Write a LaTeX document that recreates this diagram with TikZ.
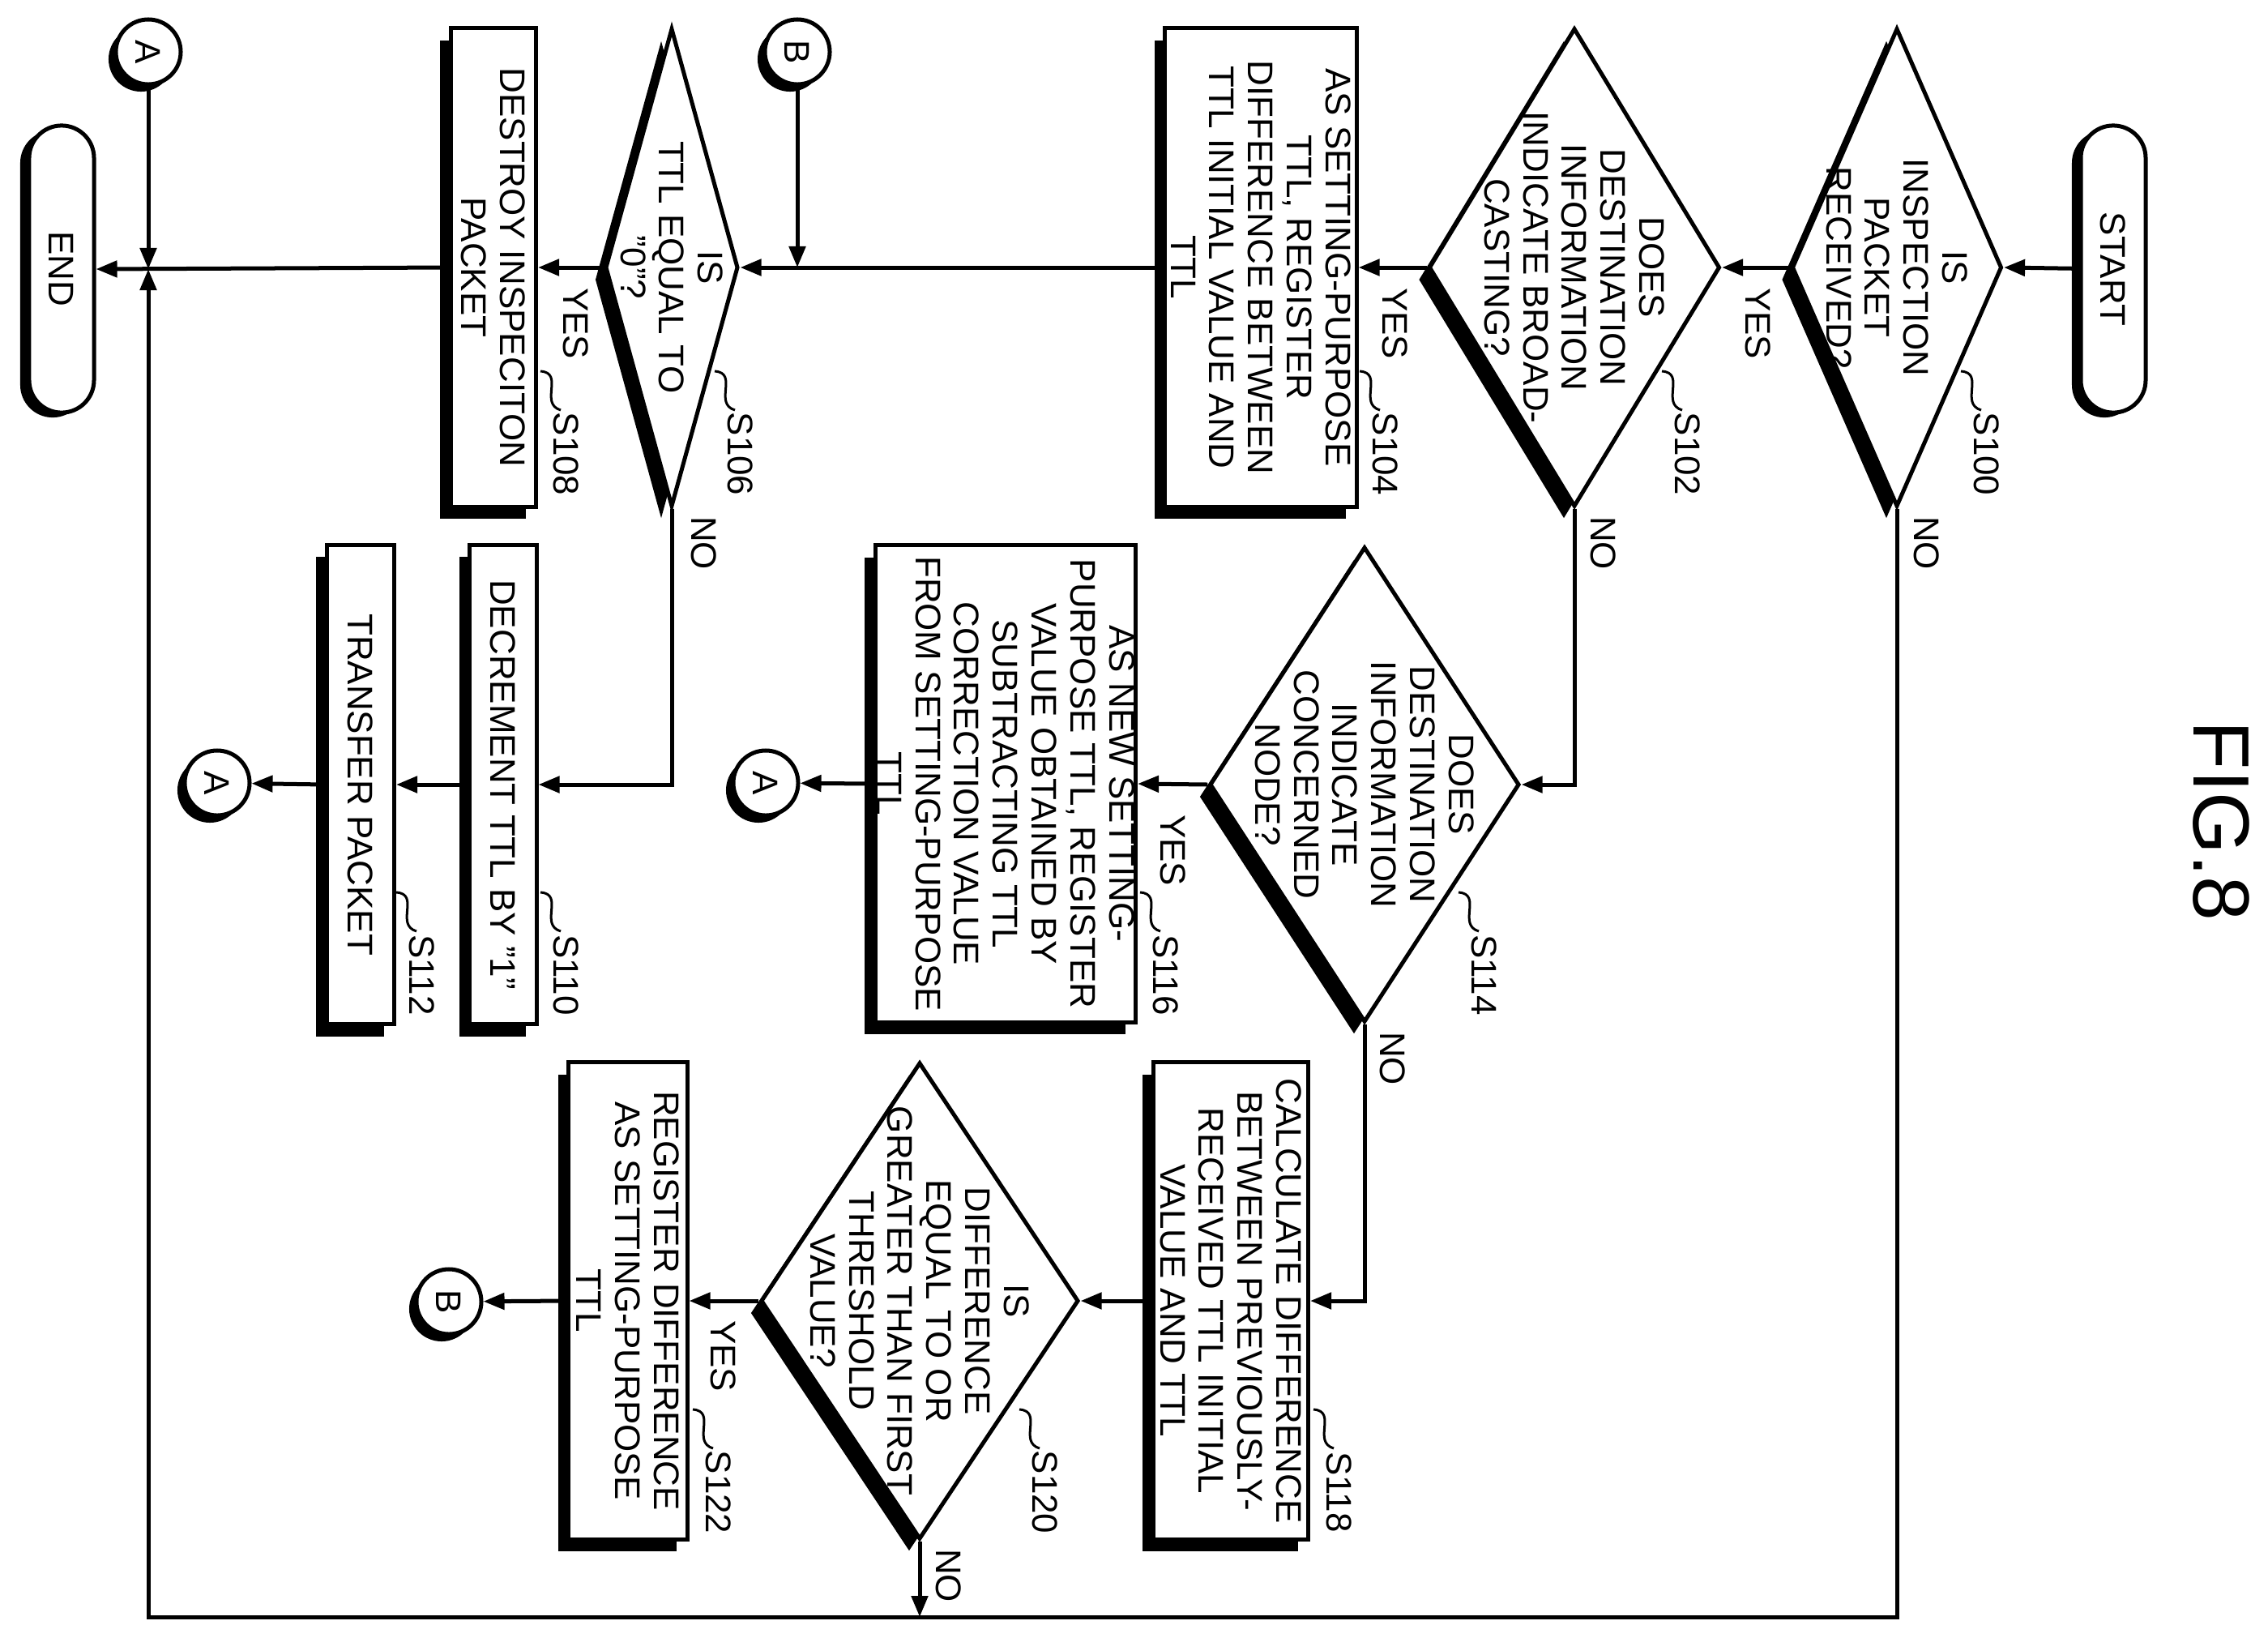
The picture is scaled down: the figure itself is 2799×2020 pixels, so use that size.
\documentclass[tikz,border=0pt]{standalone}
\usepackage{fontspec}
\setmainfont{Liberation Sans}
\usetikzlibrary{shapes.geometric,shadows,arrows.meta,calc}

\tikzset{
  every picture/.style={x=0.01cm,y=-0.01cm,line width=0.5mm},
  shd/.style={general shadow={fill=black,shadow xshift=-1.3mm,shadow yshift=-1.5mm}},
  box/.style={draw,fill=white,inner sep=0pt,shd},
  dia/.style={draw,fill=white,diamond,inner sep=0pt,shd},
  term/.style={draw,fill=white,rounded corners=0.4cm,inner sep=0pt,minimum width=0.8cm,minimum height=3.54cm,
    general shadow={fill=black,shadow xshift=-1.1mm,shadow yshift=-0.6mm}},
  conn/.style={draw,fill=white,circle,inner sep=0pt,minimum size=0.8cm,
    general shadow={fill=black,shadow xshift=-0.9mm,shadow yshift=-0.9mm}},
  txt/.style={rotate=-90,align=center,inner sep=0pt,font=\fontsize{12.5}{13.6}\selectfont},
  lab/.style={txt},
  arr/.style={-{Triangle[length=0.26cm,width=0.2cm]}},
}
\newcommand{\steplbl}[3]{%
  \node[lab] (#3) at (#1,#2) {#3};
  \draw[line width=0.3mm] (#1-32,#2-102) .. controls (#1-2,#2-100) and (#1-34,#2-62) .. (#1-7,#2-54);
}

\begin{document}
\begin{tikzpicture}
  \useasboundingbox (0,0) rectangle (2799,2020);
  % top row
  \node[term] (start) at (2608,332) {};
  \node[txt] at (start) {START};
  \node[dia,minimum width=2.59cm,minimum height=5.9cm] (s100) at (2341,330) {};
  \node[txt] at (s100) {IS\\INSPECTION\\PACKET\\RECEIVED?};
  \node[dia,minimum width=3.59cm,minimum height=5.9cm] (s102) at (1943,330) {};
  \node[txt] at (s102) {DOES\\DESTINATION\\INFORMATION\\INDICATE BROAD-\\CASTING?};
  \node[box,minimum width=2.36cm,minimum height=5.9cm] (s104) at (1556,330) {};
  \node[txt] at (s104) {AS SETTING-PURPOSE\\TTL, REGISTER\\DIFFERENCE BETWEEN\\TTL INITIAL VALUE AND\\TTL};
  \node[dia,minimum width=1.64cm,minimum height=5.9cm] (s106) at (829,330) {};
  \node[txt] at (s106) {IS\\TTL EQUAL TO\\"0"?};
  \node[box,minimum width=1.05cm,minimum height=5.9cm] (s108) at (609,330) {};
  \node[txt] at (s108) {DESTROY INSPECITON\\PACKET};
  \node[term] (end) at (76,332) {};
  \node[txt] at (end) {END};
  \node[conn] (a1) at (183,64) {};
  \node[txt] at (a1) {A};
  \node[conn] (b1) at (984,64) {};
  \node[txt] at (b1) {B};
  % middle row
  \node[dia,minimum width=3.82cm,minimum height=5.86cm] (s114) at (1684,968) {};
  \node[txt] at (s114) {DOES\\DESTINATION\\INFORMATION\\INDICATE\\CONCERNED\\NODE?};
  \node[box,minimum width=3.21cm,minimum height=5.88cm] (s116) at (1241,967) {};
  \node[txt] at (s116) {AS NEW SETTING-\\PURPOSE TTL, REGISTER\\VALUE OBTAINED BY\\SUBTRACTING TTL\\CORRECTION VALUE\\FROM SETTING-PURPOSE\\TTL};
  \node[conn] (a3) at (945,966) {};
  \node[txt] at (a3) {A};
  \node[box,minimum width=0.82cm,minimum height=5.91cm] (s110) at (621,968) {};
  \node[txt] at (s110) {DECREMENT TTL BY "1"};
  \node[box,minimum width=0.83cm,minimum height=5.91cm] (s112) at (445,968) {};
  \node[txt] at (s112) {TRANSFER PACKET};
  \node[conn] (a2) at (268,966) {};
  \node[txt] at (a2) {A};
  % bottom row
  \node[box,minimum width=1.91cm,minimum height=5.88cm] (s118) at (1519,1605) {};
  \node[txt] at (s118) {CALCULATE DIFFERENCE\\BETWEEN PREVIOUSLY-\\RECEIVED TTL INITIAL\\VALUE AND TTL};
  \node[dia,minimum width=3.92cm,minimum height=5.88cm] (s120) at (1135,1605) {};
  \node[txt] at (s120) {IS\\DIFFERENCE\\EQUAL TO OR\\GREATER THAN FIRST\\THRESHOLD\\VALUE?};
  \node[box,minimum width=1.46cm,minimum height=5.88cm] (s122) at (775,1605) {};
  \node[txt] at (s122) {REGISTER DIFFERENCE\\AS SETTING-PURPOSE\\TTL};
  \node[conn] (b2) at (554,1606) {};
  \node[txt] at (b2) {B};
  \coordinate (jn) at (183,332);
  \coordinate (br) at (2341,1995);
  \coordinate (bl) at (183,1995);
  % connectors
  \draw[arr] (start) -- (s100.east);
  \draw[arr] (s100.west) -- (s102.east);
  \draw[arr] (s102.west) -- (s104.east);
  \draw[arr] (s104.west) -- (s106.east);
  \draw[arr] (b1) -- (b1 |- s104.west);
  \draw[arr] (s106.west) -- (s108.east);
  \draw[arr] (s108.west) -- (end.east);
  \draw[arr] (a1) -- (jn);
  \draw[arr] (s100.south) -- (br) -- (bl) -- (jn);
  \draw[arr] (s102.south) |- (s114.east);
  \draw[arr] (s106.south) |- (s110.east);
  \draw[arr] (s110.west) -- (s112.east);
  \draw[arr] (s112.west) -- (a2);
  \draw[arr] (s114.west) -- (s116.east);
  \draw[arr] (s116.west) -- (a3);
  \draw[arr] (s114.south) |- (s118.east);
  \draw[arr] (s118.west) -- (s120.east);
  \draw[arr] (s120.west) -- (s122.east);
  \draw[arr] (s122.west) -- (b2);
  \draw[arr] (s120.south) -- (s120 |- br);
  % branch labels
  \node[txt] (y100) at (2170,399) {YES};
  \node[txt] (n100) at (2378,670) {NO};
  \node[txt] (y102) at (1722,399) {YES};
  \node[txt] (n102) at (1979,670) {NO};
  \node[txt] (y106) at (711,399) {YES};
  \node[txt] (n106) at (869,670) {NO};
  \node[txt] (y114) at (1448,1049) {YES};
  \node[txt] (n114) at (1719,1306) {NO};
  \node[txt] (y120) at (893,1673) {YES};
  \node[txt] (n120) at (1171,1944) {NO};
  % step labels
  \steplbl{2452}{560}{S100}
  \steplbl{2083}{560}{S102}
  \steplbl{1710}{560}{S104}
  \steplbl{914}{560}{S106}
  \steplbl{699}{560}{S108}
  \steplbl{699}{1203}{S110}
  \steplbl{521}{1203}{S112}
  \steplbl{1832}{1203}{S114}
  \steplbl{1439}{1203}{S116}
  \steplbl{1653}{1841}{S118}
  \steplbl{1290}{1841}{S120}
  \steplbl{887}{1841}{S122}
  \node[rotate=-90,inner sep=0pt,font=\fontsize{28}{30}\selectfont] (fig) at (2741,1013) {FIG.8};
\end{tikzpicture}
\end{document}
